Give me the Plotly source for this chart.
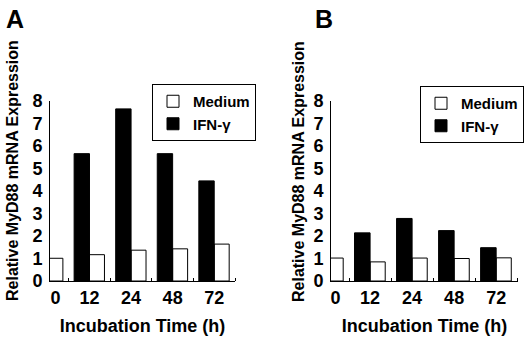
import plotly.graph_objects as go

# ---- data ----
time_labels = ["0", "12", "24", "48", "72"]
medium_A = [1.01, 1.17, 1.37, 1.43, 1.64]
ifn_A = [None, 5.66, 7.65, 5.66, 4.45]
medium_B = [1.02, 0.85, 1.02, 1.0, 1.03]
ifn_B = [None, 2.14, 2.78, 2.24, 1.48]
y_ticks = [0, 1, 2, 3, 4, 5, 6, 7, 8]
y_title = "Relative MyD88 mRNA Expression"
x_title = "Incubation Time (h)"

FONT = "Liberation Sans, Arial, Helvetica, sans-serif"
W, H = 525, 346
BAR_W = 0.36

def tick_positions(ifn):
    return [i + (BAR_W / 2 if v is None else 0) for i, v in enumerate(ifn)]

xs = list(range(len(time_labels)))

fig = go.Figure()

panels = [
    ("x", "y", medium_A, ifn_A, "legend"),
    ("x2", "y2", medium_B, ifn_B, "legend2"),
]
for xa, ya, med, ifn, lg in panels:
    fig.add_trace(go.Bar(
        x=xs, y=med, name="Medium", xaxis=xa, yaxis=ya, legend=lg,
        width=BAR_W, offset=0.0,
        marker=dict(color="white", line=dict(color="black", width=1)),
    ))
    fig.add_trace(go.Bar(
        x=xs, y=ifn, name="IFN-γ", xaxis=xa, yaxis=ya, legend=lg,
        width=BAR_W + 0.01, offset=-(BAR_W + 0.01),
        marker=dict(color="black", line=dict(color="black", width=1)),
    ))

ydom = [65 / H, 245 / H]
common_x = dict(
    showline=True, linecolor="black", linewidth=1, showgrid=False, zeroline=False,
    automargin=False,
    ticks="", tickfont=dict(family=FONT, size=18, color="black", weight="bold"),
    ticktext=time_labels,
    minor=dict(ticks="inside", ticklen=3, tickcolor="black", tick0=0.5, dtick=1, showgrid=False),
    title=dict(text="<b>" + x_title + "</b>", font=dict(family=FONT, size=18, color="black"), standoff=12),
)
common_y = dict(
    showline=True, linecolor="black", linewidth=1, showgrid=False, zeroline=False,
    automargin=False,
    range=[0, 8], tickvals=y_ticks, ticks="outside", ticklen=3, tickcolor="white",
    tickfont=dict(family=FONT, size=18, color="black", weight="bold"),
)

leg_common = dict(
    xanchor="left", yanchor="top",
    bordercolor="black", borderwidth=1, bgcolor="white",
    font=dict(family=FONT, size=15, color="black", weight="bold"),
    itemwidth=30, tracegroupgap=0, traceorder="normal",
)

fig.update_layout(
    width=W, height=H, margin=dict(l=0, r=0, t=0, b=0, autoexpand=False),
    paper_bgcolor="white", plot_bgcolor="white",
    barmode="overlay", showlegend=True,
    xaxis=dict(domain=[50 / W, 235 / W], range=[0.05, 4.5], tickvals=tick_positions(ifn_A), anchor="y", **common_x),
    yaxis=dict(domain=ydom, anchor="x", **common_y),
    xaxis2=dict(domain=[331 / W, 518 / W], range=[0.07, 4.52], tickvals=tick_positions(ifn_B), anchor="y2", **common_x),
    yaxis2=dict(domain=ydom, anchor="x2", **common_y),
    legend=dict(x=152 / W, y=1 - 84 / H, **leg_common),
    legend2=dict(x=420 / W, y=1 - 86 / H, **leg_common),
    annotations=[
        dict(text="<b>A</b>", xref="paper", yref="paper", x=4 / W, y=1 - 3 / H,
             xanchor="left", yanchor="top", showarrow=False,
             font=dict(family=FONT, size=25, color="black")),
        dict(text="<b>B</b>", xref="paper", yref="paper", x=313 / W, y=1 - 3 / H,
             xanchor="left", yanchor="top", showarrow=False,
             font=dict(family=FONT, size=25, color="black")),
        dict(text="<b>" + y_title + "</b>", xref="paper", yref="paper", textangle=-90,
             x=13 / W, y=1 - 171 / H, xanchor="center", yanchor="middle", showarrow=False,
             font=dict(family=FONT, size=16, color="black")),
        dict(text="<b>" + y_title + "</b>", xref="paper", yref="paper", textangle=-90,
             x=298 / W, y=1 - 172 / H, xanchor="center", yanchor="middle", showarrow=False,
             font=dict(family=FONT, size=16, color="black")),
    ],
)

fig.write_html("out.html", config={"displayModeBar": False},
               post_script="document.body.style.margin='0px';")
